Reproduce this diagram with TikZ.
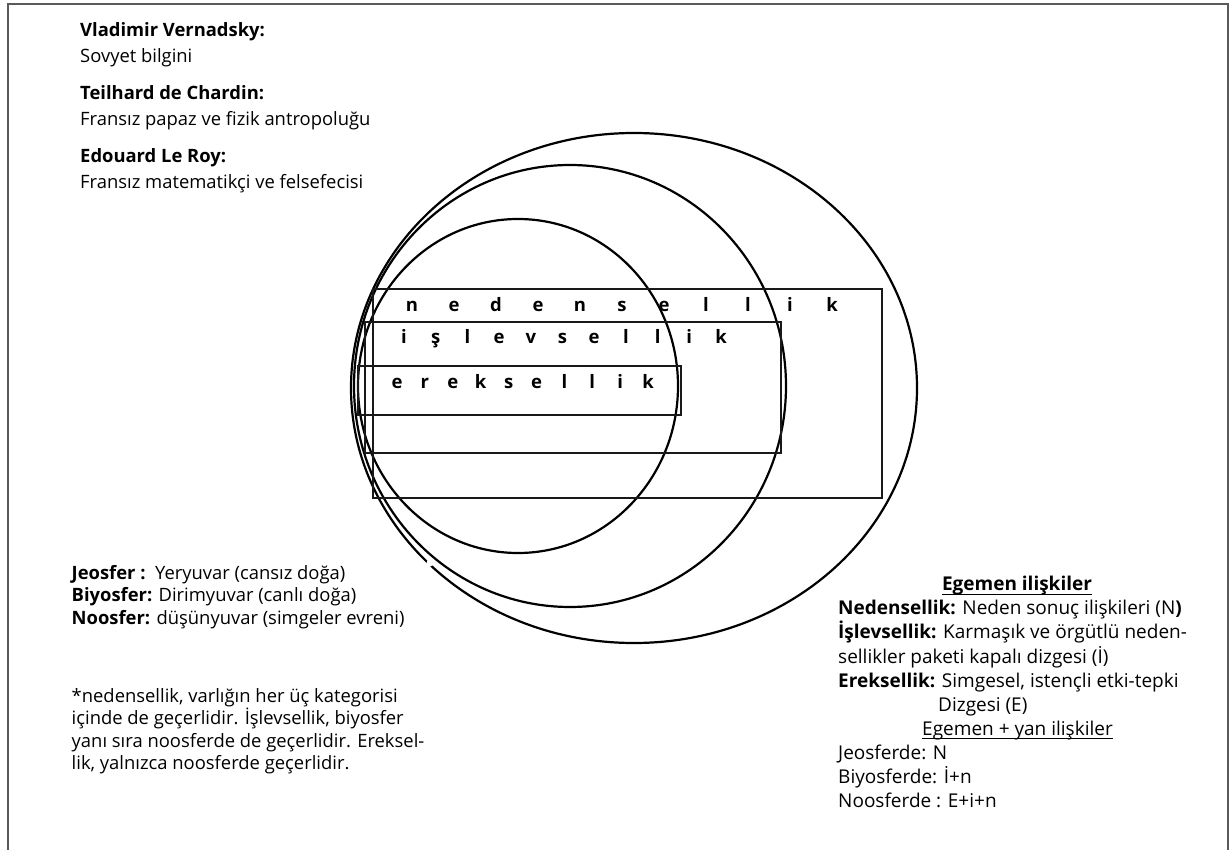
\documentclass[tikz,border=0pt]{standalone}
\usepackage{fontspec}
\setmainfont{Open Sans}
\begin{document}
\begin{tikzpicture}[x=1pt,y=-1pt,
  txt/.style={inner sep=0pt, anchor=base west, font=\fontsize{18.4}{22}\selectfont},
  rtxt/.style={inner sep=0pt, anchor=base west, font=\fontsize{19}{23}\selectfont},
  ctxt/.style={inner sep=0pt, anchor=base, font=\fontsize{19}{23}\selectfont},
  ring/.style={draw=black, line width=2.2pt},
  band/.style={draw=black!90, line width=2.8pt},
  lett/.style={inner sep=0pt, anchor=base, font=\fontsize{18.5}{20}\selectfont\bfseries},
  frame/.style={draw=black!65, line width=1.4pt}]
\useasboundingbox (0,0) rectangle (1229,850);
\draw[frame] (8,850) -- (8,4) -- (1228,4) -- (1228,850);

% circles
\draw[ring] (634,388) ellipse [x radius=283, y radius=255];
\draw[ring] (570,386) ellipse [x radius=216, y radius=221];
\draw[ring] (518,386) ellipse [x radius=160, y radius=167];
\fill[white] (430,563) circle [radius=3.5];

% bands
\draw[band] (373,289) rectangle (882,498);
\draw[band] (365,322) rectangle (781,453);
\draw[band] (358,366) rectangle (681,415);

% spaced letters
\foreach \c [count=\i] in {n,e,d,e,n,s,e,l,l,i,k}
  \node[lett] (n\i) at ({412+42*(\i-1)},311.5) {\c};
\foreach \c [count=\i] in {i,ş,l,e,v,s,e,l,l,i,k}
  \node[lett] (s\i) at ({404+31.7*(\i-1)},343) {\c};
\foreach \c [count=\i] in {e,r,e,k,s,e,l,l,i,k}
  \node[lett] (e\i) at ({397+27.9*(\i-1)},388) {\c};

% top-left
\node[txt] (w1) at (80,37) {\textbf{Vladimir Vernadsky:}};
\node[txt] (w1b) at (80,62.5) {Sovyet bilgini};
\node[txt] (w2) at (80,100) {\textbf{Teilhard de Chardin:}};
\node[txt] (w2b) at (80,125.5) {Fransız papaz ve fizik antropoluğu};
\node[txt] (w3) at (80,163) {\textbf{Edouard Le Roy:}};
\node[txt] (w3b) at (80,188.5) {Fransız matematikçi ve felsefecisi};

% bottom-left
\node[txt] (sp1) at (71.5,579) {\textbf{Jeosfer :}\ \ Yeryuvar (cansız doğa)};
\node[txt] (sp2) at (71.5,601.5) {\textbf{Biyosfer:} Dirimyuvar (canlı doğa)};
\node[txt] (sp3) at (71.5,624) {\textbf{Noosfer:} düşünyuvar (simgeler evreni)};
\node[txt] (nt1) at (71.5,702) {*nedensellik, varlığın her üç kategorisi};
\node[txt] (nt2) at (71.5,724.6) {içinde de geçerlidir. İşlevsellik, biyosfer};
\node[txt] (nt3) at (71.5,747.2) {yanı sıra noosferde de geçerlidir. Ereksel-};
\node[txt] (nt4) at (71.5,769.8) {lik, yalnızca noosferde geçerlidir.};

% right
\node[ctxt] (eg) at (1017,590.7) {\textbf{Egemen ilişkiler}};
\draw[line width=1.3pt] ([yshift=-3.5pt]eg.base west) -- ([yshift=-3.5pt]eg.base east);
\node[rtxt] (r1) at (838,614.8) {\textbf{Nedensellik:} Neden sonuç ilişkileri (N\textbf{)}};
\node[rtxt] (r2) at (838,638.9) {\textbf{İşlevsellik:} Karmaşık ve örgütlü neden-};
\node[rtxt] (r3) at (838,663) {sellikler paketi kapalı dizgesi (İ)};
\node[rtxt] (r4) at (838,687.1) {\textbf{Ereksellik:} Simgesel, istençli etki-tepki};
\node[rtxt] (r5) at (938,711.2) {Dizgesi (E)};
\node[ctxt] (eg2) at (1017.5,735.3) {Egemen + yan ilişkiler};
\draw[line width=1pt] ([yshift=-3.5pt]eg2.base west) -- ([yshift=-3.5pt]eg2.base east);
\node[rtxt] (l1) at (838,759.4) {Jeosferde: N};
\node[rtxt] (l2) at (838,783.5) {Biyosferde: İ+n};
\node[rtxt] (l3) at (838,807.6) {Noosferde : E+i+n};
\end{tikzpicture}
\end{document}
